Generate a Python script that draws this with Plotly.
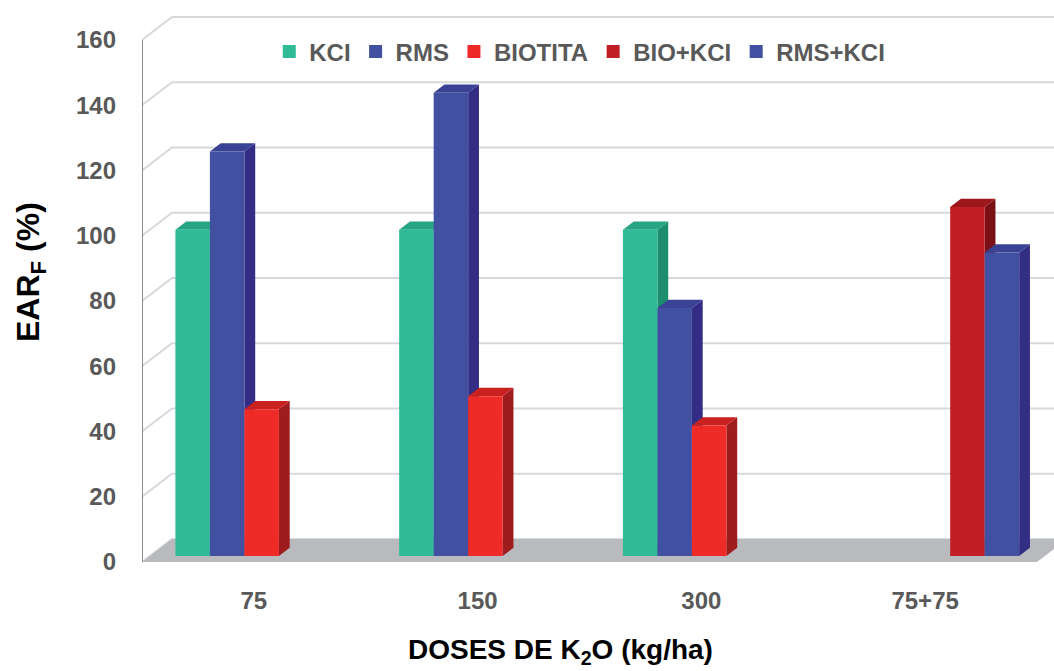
import plotly.graph_objects as go

# ---- data -------------------------------------------------------------
categories = ["75", "150", "300", "75+75"]
series_names = ["KCI", "RMS", "BIOTITA", "BIO+KCI", "RMS+KCI"]
kci = [100, 100, 100, None]
rms = [124, 142, 76, None]
biotita = [45, 49, 40, None]
bio_kci = [None, None, None, 107]
rms_kci = [None, None, None, 93]
y_ticks = [0, 20, 40, 60, 80, 100, 120, 140, 160]

series_values = [kci, rms, biotita, bio_kci, rms_kci]

# ---- style ------------------------------------------------------------
# (front, side, top) colour of each series' boxes
face_colors = [
    ("#2fbb98", "#1c8e6e", "#27a484"),
    ("#4150a0", "#342d86", "#3a4295"),
    ("#ee2b27", "#9e1b1e", "#c8211f"),
    ("#c01f26", "#7a1015", "#9c171c"),
    ("#4150a0", "#342d86", "#3a4295"),
]
GRID = "#d6d9dc"
FLOOR = "#b9babd"
AXIS_LINE = "#8c8c8c"
TICK_FONT = dict(family="Liberation Sans, Arial", size=24, color="#595959", weight="bold")

# oblique projection of the chart depth, expressed in axis units
DEPTH_X = 0.134      # horizontal shift of the back wall (category units)
DEPTH_Y = 7.05       # vertical shift of the back wall (value units)
GROUP_WIDTH = 0.771  # width of a full cluster of five boxes
BAR_FRONT = 0.26     # depth fraction of the boxes' front faces
BAR_DEPTH = 0.36     # depth fraction occupied by the boxes
X_MIN, X_MAX = -0.5, len(categories) - 0.5
X_RANGE = [X_MIN, 3.576]
Y_RANGE = [-2.76, 172.26]

fig = go.Figure()


def add_lines(xs, ys, color, width):
    fig.add_trace(go.Scatter(x=xs, y=ys, mode="lines", line=dict(color=color, width=width),
                             hoverinfo="skip", showlegend=False))


def add_poly(xs, ys, color, hover=None):
    fig.add_trace(go.Scatter(x=xs, y=ys, mode="none", fill="toself", fillcolor=color,
                             hoverinfo="skip" if hover is None else "text",
                             text=hover, showlegend=False))


# walls: gridlines on the left wall and the back wall
gx, gy = [], []
for v in y_ticks:
    gx += [X_MIN, X_MIN + DEPTH_X, X_MAX + DEPTH_X, None]
    gy += [v, v + DEPTH_Y, v + DEPTH_Y, None]
add_lines(gx, gy, GRID, 2)

# floor
add_poly([X_MIN, X_MAX, X_MAX + DEPTH_X, X_MIN + DEPTH_X, X_MIN],
         [0, 0, DEPTH_Y, DEPTH_Y, 0], FLOOR)

# left vertical axis line
add_lines([X_MIN, X_MIN], [y_ticks[0], y_ticks[-1]], AXIS_LINE, 2)

# boxes, drawn series by series (left to right inside each cluster)
bw = GROUP_WIDTH / len(series_names)
ox, oy = BAR_DEPTH * DEPTH_X, BAR_DEPTH * DEPTH_Y
for s, (name, vals) in enumerate(zip(series_names, series_values)):
    front_c, side_c, top_c = face_colors[s]
    fx, fy, sx, sy, tx, ty, hv = [], [], [], [], [], [], []
    for c, v in enumerate(vals):
        if v is None:
            continue
        xl = c - GROUP_WIDTH / 2 + s * bw + BAR_FRONT * DEPTH_X
        xr = xl + bw
        yb = BAR_FRONT * DEPTH_Y
        yt = yb + v
        fx += [xl, xr, xr, xl, xl, None]
        fy += [yb, yb, yt, yt, yb, None]
        sx += [xr, xr + ox, xr + ox, xr, xr, None]
        sy += [yb, yb + oy, yt + oy, yt, yb, None]
        tx += [xl, xr, xr + ox, xl + ox, xl, None]
        ty += [yt, yt, yt + oy, yt + oy, yt, None]
        hv += [f"{name} – {categories[c]}: {v}"] * 5 + [None]
    add_poly(sx, sy, side_c)
    add_poly(tx, ty, top_c)
    add_poly(fx, fy, front_c, hover=hv)

# legend entries
for s, name in enumerate(series_names):
    fig.add_trace(go.Scatter(x=[None], y=[None], mode="markers", name=name,
                             marker=dict(symbol="square", size=13, color=face_colors[s][0])))

fig.update_layout(
    width=1054, height=671,
    margin=dict(l=142, r=0, t=0, b=100),
    paper_bgcolor="white", plot_bgcolor="white",
    showlegend=True,
    legend=dict(orientation="h", x=0.48, xanchor="center", y=0.909, yanchor="middle",
                font=dict(family="Liberation Sans, Arial", size=24, color="#595959", weight="bold"),
                bgcolor="rgba(0,0,0,0)", itemclick=False, itemdoubleclick=False),
    xaxis=dict(range=X_RANGE, tickvals=list(range(len(categories))), ticktext=categories,
               showgrid=False, zeroline=False, showline=False, ticks="",
               ticklabelstandoff=13, tickfont=TICK_FONT, fixedrange=True),
    yaxis=dict(range=Y_RANGE, tickvals=y_ticks, showgrid=False, zeroline=False,
               showline=False, ticks="", ticklabelstandoff=25, tickfont=TICK_FONT,
               fixedrange=True),
    annotations=[
        dict(text="DOSES DE K<sub>2</sub>O (kg/ha)", xref="paper", yref="paper",
             x=0.4594, y=-0.1415, xanchor="center", yanchor="middle", showarrow=False,
             font=dict(family="Liberation Sans, Arial", size=28, color="black", weight="bold")),
        dict(text="EAR<sub>F</sub> (%)", xref="paper", yref="paper", textangle=-90,
             x=-0.1228, y=0.5236, xanchor="center", yanchor="middle", showarrow=False,
             font=dict(family="Liberation Sans, Arial", size=32, color="black", weight="bold")),
    ],
)

fig.write_html("out.html")
